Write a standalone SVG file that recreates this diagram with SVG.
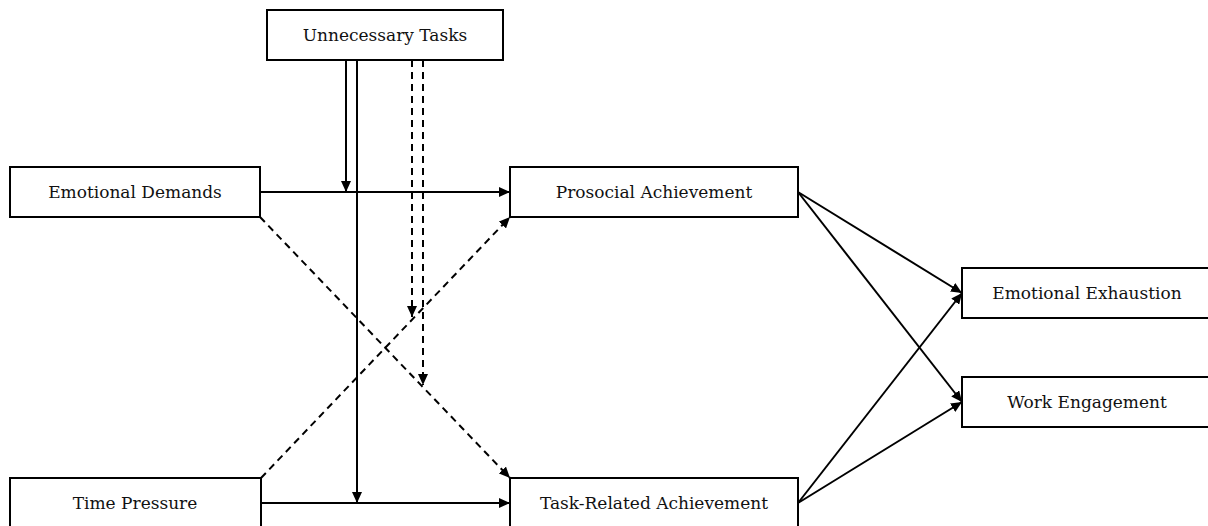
<svg xmlns="http://www.w3.org/2000/svg" width="1208" height="526" viewBox="0 0 1208 526">
  <style>
    .box { fill: #ffffff; stroke: #000000; stroke-width: 2; }
    .label { font-family: "DejaVu Serif", "Liberation Serif", serif; font-size: 17px; fill: #111111; text-anchor: middle; }
    .solid { fill: none; stroke: #000000; stroke-width: 2; marker-end: url(#arrow); }
    .dashed { fill: none; stroke: #000000; stroke-width: 2; stroke-dasharray: 7 5; marker-end: url(#arrow); }
  </style>
  <defs>
    <marker id="arrow" markerUnits="userSpaceOnUse" markerWidth="12" markerHeight="10" refX="11" refY="5" orient="auto">
      <path d="M0,0 L11,5 L0,10 z" fill="#000000"/>
    </marker>
  </defs>
  <rect width="1208" height="526" fill="#ffffff"/>

  <g id="connectors">
    <!-- moderation paths from Unnecessary Tasks -->
    <line class="solid" x1="346" y1="60" x2="346" y2="192"/>
    <line class="solid" x1="357" y1="60" x2="357" y2="503"/>
    <line class="dashed" x1="412" y1="60" x2="412" y2="317"/>
    <line class="dashed" x1="423" y1="60" x2="423" y2="385"/>
    <!-- demands to achievement -->
    <line class="solid" x1="260" y1="192" x2="510" y2="192"/>
    <line class="solid" x1="261" y1="503" x2="510" y2="503"/>
    <line class="dashed" x1="260" y1="217" x2="510" y2="478"/>
    <line class="dashed" x1="261" y1="478" x2="510" y2="217"/>
    <!-- achievement to outcomes -->
    <line class="solid" x1="798" y1="192" x2="962" y2="293"/>
    <line class="solid" x1="798" y1="192" x2="962" y2="402"/>
    <line class="solid" x1="798" y1="503" x2="962" y2="293"/>
    <line class="solid" x1="798" y1="503" x2="962" y2="402"/>
  </g>

  <g id="unnecessary-tasks">
    <rect class="box" x="267" y="10" width="236" height="50"/>
    <text class="label" x="385" y="41">Unnecessary Tasks</text>
  </g>
  <g id="emotional-demands">
    <rect class="box" x="10" y="167" width="250" height="50"/>
    <text class="label" x="135" y="198">Emotional Demands</text>
  </g>
  <g id="time-pressure">
    <rect class="box" x="10" y="478" width="251" height="50"/>
    <text class="label" x="135" y="509">Time Pressure</text>
  </g>
  <g id="prosocial-achievement">
    <rect class="box" x="510" y="167" width="288" height="50"/>
    <text class="label" x="654" y="198">Prosocial Achievement</text>
  </g>
  <g id="task-related-achievement">
    <rect class="box" x="510" y="478" width="288" height="50"/>
    <text class="label" x="654" y="509">Task-Related Achievement</text>
  </g>
  <g id="emotional-exhaustion">
    <rect class="box" x="962" y="268" width="251" height="50"/>
    <text class="label" x="1087" y="299">Emotional Exhaustion</text>
  </g>
  <g id="work-engagement">
    <rect class="box" x="962" y="377" width="251" height="50"/>
    <text class="label" x="1087" y="408">Work Engagement</text>
  </g>
</svg>
